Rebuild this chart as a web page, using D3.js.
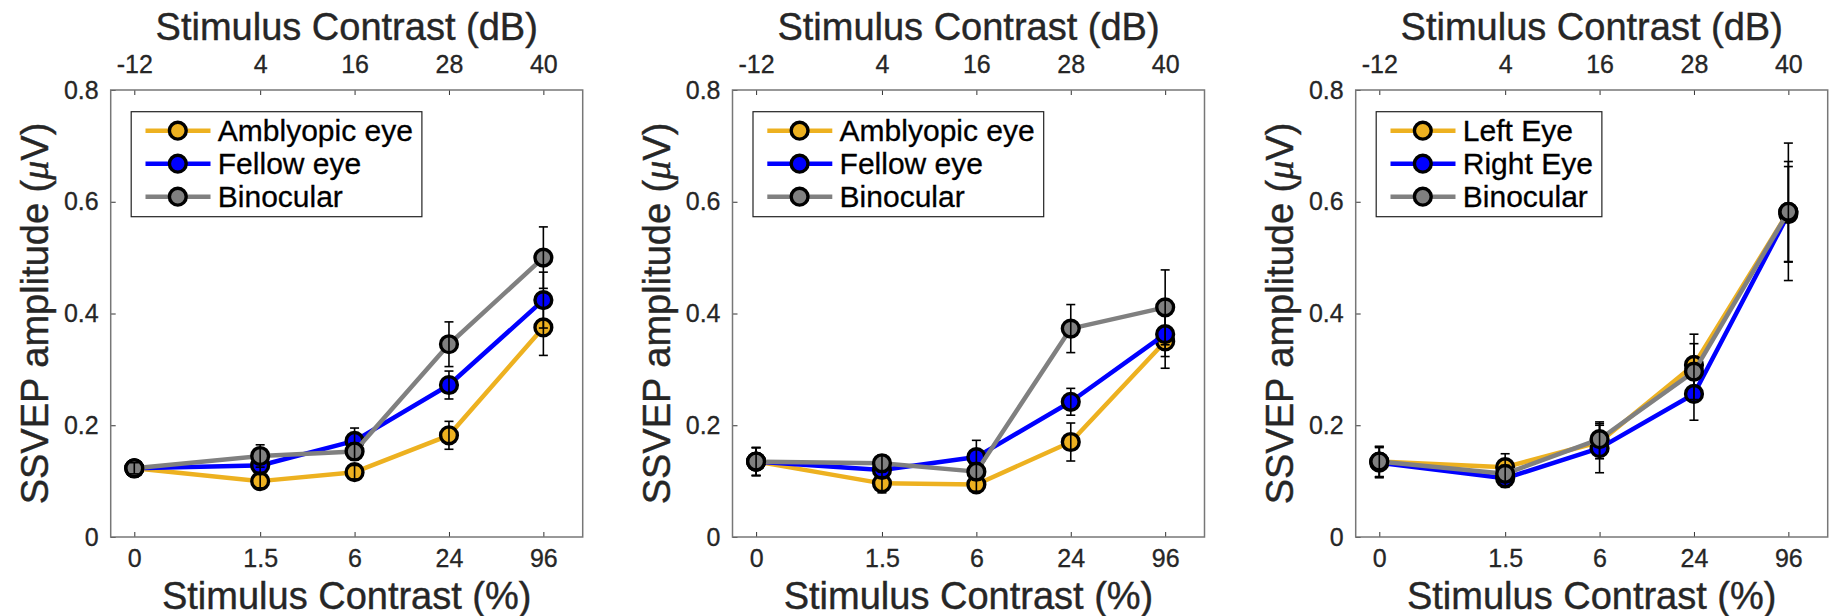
<!DOCTYPE html>
<html>
<head>
<meta charset="utf-8">
<script src="https://cdn.jsdelivr.net/npm/d3@7"></script>
<style>
  body { margin: 0; background: #fff; }
  text { font-family: "Liberation Sans", Arial, Helvetica, sans-serif; }
</style>
</head>
<body>
<div id="chart"></div>
<script>
// x positions: contrast (%) on the bottom, the same points in dB on top
var contrastLabels = ["0", "1.5", "6", "24", "96"];
var contrastDb = [-12, 4, 16, 28, 40];
var yTicks = [0, 0.2, 0.4, 0.6, 0.8];

// panel 1
var p1Names = ["Amblyopic eye", "Fellow eye", "Binocular"];
var p1Amblyopic = [0.123, 0.100, 0.116, 0.182, 0.375];
var p1AmblyopicErr = [0.010, 0.012, 0.012, 0.025, 0.050];
var p1Fellow = [0.123, 0.128, 0.172, 0.272, 0.424];
var p1FellowErr = [0.010, 0.012, 0.023, 0.025, 0.050];
var p1Binocular = [0.123, 0.145, 0.153, 0.345, 0.500];
var p1BinocularErr = [0.010, 0.020, 0.015, 0.040, 0.055];

// panel 2
var p2Names = ["Amblyopic eye", "Fellow eye", "Binocular"];
var p2Amblyopic = [0.135, 0.096, 0.094, 0.170, 0.350];
var p2AmblyopicErr = [0.025, 0.017, 0.012, 0.034, 0.048];
var p2Fellow = [0.135, 0.120, 0.143, 0.242, 0.363];
var p2FellowErr = [0.025, 0.012, 0.030, 0.024, 0.040];
var p2Binocular = [0.135, 0.132, 0.117, 0.373, 0.411];
var p2BinocularErr = [0.025, 0.015, 0.015, 0.043, 0.067];

// panel 3
var p3Names = ["Left Eye", "Right Eye", "Binocular"];
var p3Left = [0.135, 0.125, 0.170, 0.308, 0.582];
var p3LeftErr = [0.027, 0.024, 0.030, 0.055, 0.090];
var p3Right = [0.133, 0.105, 0.159, 0.256, 0.578];
var p3RightErr = [0.027, 0.016, 0.044, 0.047, 0.085];
var p3Binocular = [0.135, 0.113, 0.175, 0.296, 0.582];
var p3BinocularErr = [0.027, 0.015, 0.031, 0.050, 0.123];

var colors = ["#EDB120", "#0000FF", "#808080"];

var W = 1829, H = 616;
var plotTop = 90, plotH = 447, plotW = 472;
var panelLeft = [110.7, 732.5, 1355.7];
var textColor = "#262626";

var svg = d3.select("#chart").append("svg")
  .attr("width", W)
  .attr("height", H);

var panels = [
  {names: p1Names, ys: [p1Amblyopic, p1Fellow, p1Binocular], errs: [p1AmblyopicErr, p1FellowErr, p1BinocularErr]},
  {names: p2Names, ys: [p2Amblyopic, p2Fellow, p2Binocular], errs: [p2AmblyopicErr, p2FellowErr, p2BinocularErr]},
  {names: p3Names, ys: [p3Left, p3Right, p3Binocular], errs: [p3LeftErr, p3RightErr, p3BinocularErr]}
];

panels.forEach(function(p, i) {
  drawPanel(p, panelLeft[i]);
});

function drawPanel(p, left) {
  var x = d3.scaleLinear().domain([-15, 45]).range([0, plotW]);
  var y = d3.scaleLinear().domain([0, 0.8]).range([plotH, 0]);

  var g = svg.append("g")
    .attr("transform", "translate(" + left + "," + plotTop + ")");

  // axes (inward ticks)
  var bottom = g.append("g")
    .attr("transform", "translate(0," + plotH + ")")
    .call(d3.axisBottom(x).tickValues(contrastDb)
      .tickFormat(function(d, i) { return contrastLabels[i]; })
      .tickSizeInner(-5).tickSizeOuter(0).tickPadding(12));
  var top = g.append("g")
    .call(d3.axisTop(x).tickValues(contrastDb)
      .tickFormat(function(d) { return d; })
      .tickSizeInner(-5).tickSizeOuter(0).tickPadding(17.5));
  var leftAx = g.append("g")
    .call(d3.axisLeft(y).tickValues(yTicks)
      .tickFormat(function(d) { return d === 0 ? "0" : d3.format(".1f")(d); })
      .tickSizeInner(-5).tickSizeOuter(0).tickPadding(12));
  [bottom, top, leftAx].forEach(function(a) {
    a.select(".domain").remove();
    a.selectAll(".tick line").attr("stroke", "#333").attr("stroke-width", 1);
    a.selectAll(".tick text")
      .attr("fill", textColor)
      .attr("stroke", textColor)
      .attr("stroke-width", 0.3)
      .attr("font-size", 25)
      .style("font-family", "'Liberation Sans', Arial, sans-serif");
  });
  bottom.selectAll(".tick text").attr("dy", "0.71em");

  g.append("rect")
    .attr("x", 0).attr("y", 0)
    .attr("width", plotW).attr("height", plotH)
    .attr("fill", "none")
    .attr("stroke", "#777")
    .attr("stroke-width", 1.5);

  // axis titles
  g.append("text")
    .attr("x", plotW / 2).attr("y", 39.5 - plotTop)
    .attr("text-anchor", "middle")
    .attr("font-size", 38)
    .attr("fill", textColor)
    .attr("stroke", textColor).attr("stroke-width", 0.4)
    .text("Stimulus Contrast (dB)");
  g.append("text")
    .attr("x", plotW / 2).attr("y", 609 - plotTop)
    .attr("text-anchor", "middle")
    .attr("font-size", 38)
    .attr("fill", textColor)
    .attr("stroke", textColor).attr("stroke-width", 0.4)
    .text("Stimulus Contrast (%)");
  var yl = g.append("text")
    .attr("transform", "translate(" + (48 - 110.7) + "," + (plotH / 2) + ") rotate(-90)")
    .attr("text-anchor", "middle")
    .attr("font-size", 38)
    .attr("fill", textColor)
    .attr("stroke", textColor).attr("stroke-width", 0.4);
  yl.append("tspan").text("SSVEP amplitude (");
  yl.append("tspan")
    .style("font-family", "'Liberation Serif', 'DejaVu Serif', serif")
    .style("font-style", "italic")
    .text("\u03BC");
  yl.append("tspan").text("V)");

  // series
  var line = d3.line()
    .x(function(d, i) { return x(contrastDb[i]); })
    .y(function(d) { return y(d); });

  p.ys.forEach(function(vals, s) {
    var errs = p.errs[s];
    var sg = g.append("g");
    sg.append("path")
      .datum(vals)
      .attr("d", line)
      .attr("fill", "none")
      .attr("stroke", colors[s])
      .attr("stroke-width", 4.5)
      .attr("stroke-linejoin", "round");
    sg.selectAll("circle")
      .data(vals)
      .enter().append("circle")
      .attr("cx", function(d, i) { return x(contrastDb[i]); })
      .attr("cy", function(d) { return y(d); })
      .attr("r", 8.4)
      .attr("fill", colors[s])
      .attr("stroke", "#000")
      .attr("stroke-width", 3.4);
    var eb = sg.selectAll("g.err")
      .data(vals)
      .enter().append("g")
      .attr("class", "err")
      .attr("stroke", "#000")
      .attr("stroke-width", 1.6);
    eb.append("line")
      .attr("x1", function(d, i) { return x(contrastDb[i]); })
      .attr("x2", function(d, i) { return x(contrastDb[i]); })
      .attr("y1", function(d, i) { return y(d - errs[i]); })
      .attr("y2", function(d, i) { return y(d + errs[i]); });
    [-1, 1].forEach(function(sign) {
      eb.append("line")
        .attr("x1", function(d, i) { return x(contrastDb[i]) - 4.5; })
        .attr("x2", function(d, i) { return x(contrastDb[i]) + 4.5; })
        .attr("y1", function(d, i) { return y(d + sign * errs[i]); })
        .attr("y2", function(d, i) { return y(d + sign * errs[i]); });
    });
  });

  // legend
  var legend = g.append("g").attr("transform", "translate(20.5,21.7)");
  var box = legend.append("rect")
    .attr("x", 0).attr("y", 0)
    .attr("height", 105)
    .attr("fill", "#fff")
    .attr("stroke", "#222")
    .attr("stroke-width", 1.2);
  var maxW = 0;
  p.names.forEach(function(name, s) {
    var cy = 19 + s * 33;
    legend.append("line")
      .attr("x1", 14.3).attr("x2", 79.3)
      .attr("y1", cy).attr("y2", cy)
      .attr("stroke", colors[s])
      .attr("stroke-width", 4.5);
    legend.append("circle")
      .attr("cx", 46.6).attr("cy", cy)
      .attr("r", 8.4)
      .attr("fill", colors[s])
      .attr("stroke", "#000")
      .attr("stroke-width", 3.4);
    var t = legend.append("text")
      .attr("x", 86.6).attr("y", cy)
      .attr("dy", "0.36em")
      .attr("font-size", 30)
      .attr("fill", "#000")
      .attr("stroke", "#000").attr("stroke-width", 0.3)
      .text(name);
    maxW = Math.max(maxW, t.node().getComputedTextLength());
  });
  box.attr("width", 86.6 + maxW + 9);
}
</script>
</body>
</html>
